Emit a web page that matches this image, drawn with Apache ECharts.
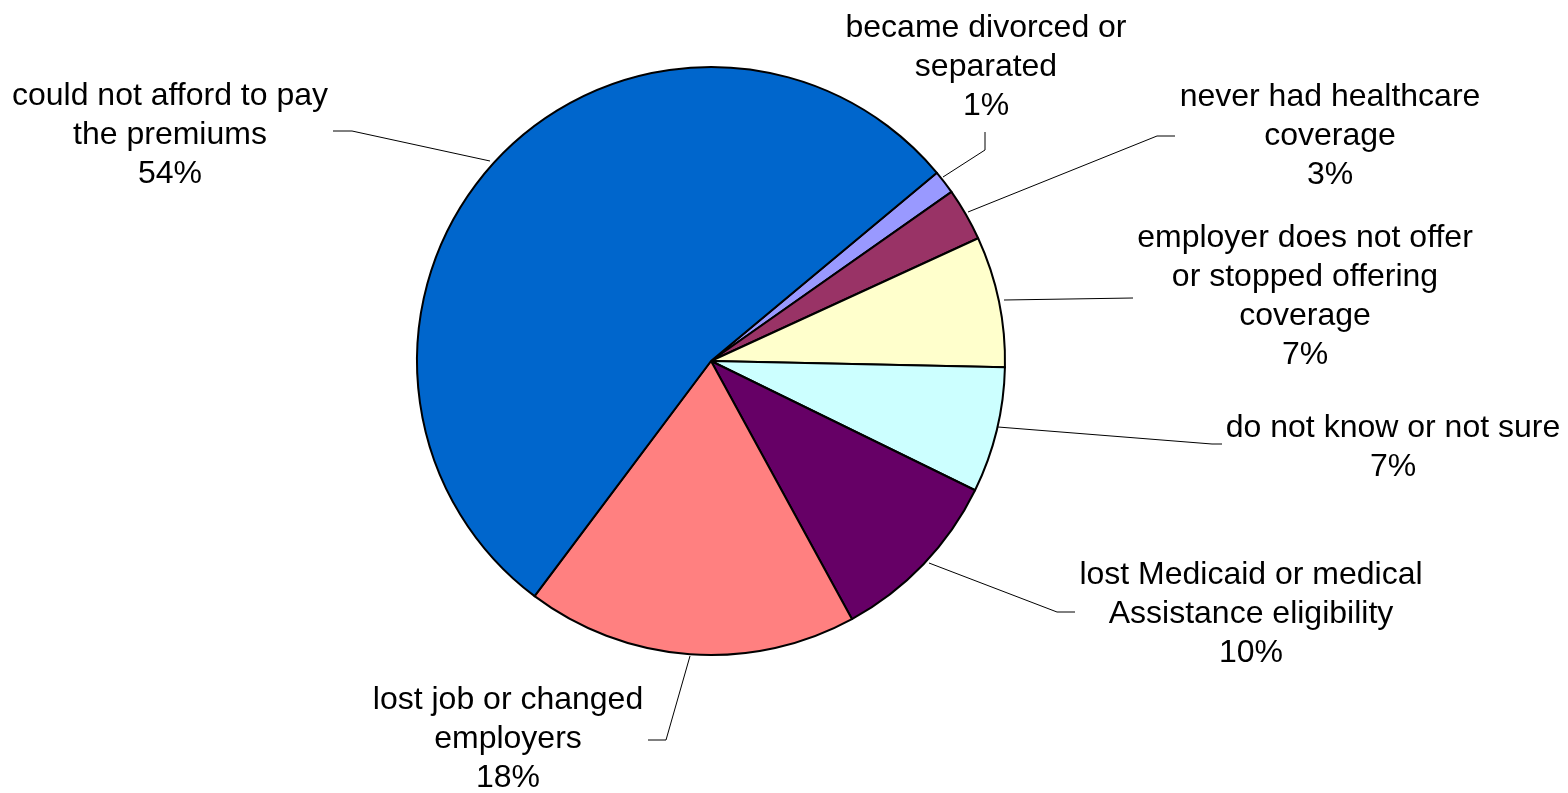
<!DOCTYPE html>
<html>
<head>
<meta charset="utf-8">
<script src="https://cdn.jsdelivr.net/npm/echarts@6/dist/echarts.min.js"></script>
<style>
html,body{margin:0;padding:0;background:#fff;}
#chart{width:1568px;height:793px;}
</style>
</head>
<body>
<div id="chart"></div>
<script>
// Categories (clockwise from the top-right boundary)
const categories = [
  "became divorced or\nseparated",
  "never had healthcare\ncoverage",
  "employer does not offer\nor stopped offering\ncoverage",
  "do not know or not sure",
  "lost Medicaid or medical\nAssistance eligibility",
  "lost job or changed\nemployers",
  "could not afford to pay\nthe premiums"
];
// Shares (percent)
const values = [1.3, 2.9, 7.2, 6.9, 9.8, 18.2, 53.7];
const colors = ["#9999FF", "#993366", "#FFFFCC", "#CCFFFF", "#660066", "#FF8080", "#0066CC"];

// Label placement (layout only): text centre and leader-line points
const labelPos = [
  { x: 986,  y: 67,  line: [[943,177],[985,150],[985,132]] },
  { x: 1330, y: 136, line: [[968,212],[1157,136],[1175,136]] },
  { x: 1305, y: 297, line: [[1004,300],[1133,298]] },
  { x: 1393, y: 448, line: [[998,427],[1212,444],[1222,444]] },
  { x: 1251, y: 614, line: [[929,563],[1057,612],[1075,612]] },
  { x: 508,  y: 739, line: [[690,656],[666,740],[648,740]] },
  { x: 170,  y: 135, line: [[490,161],[352,131],[333,131]] }
];

const chart = echarts.init(document.getElementById('chart'), null, { renderer: 'canvas' });
chart.setOption({
  animation: false,
  backgroundColor: '#ffffff',
  series: [{
    type: 'pie',
    center: [711, 361],
    radius: 294,
    startAngle: 39.8,
    clockwise: true,
    percentPrecision: 0,
    avoidLabelOverlap: false,
    data: categories.map((c, i) => ({ name: c, value: values[i], itemStyle: { color: colors[i] } })),
    itemStyle: { borderColor: '#000', borderWidth: 2 },
    emphasis: { disabled: true },
    label: {
      show: true,
      position: 'outside',
      formatter: '{b}\n{d}%',
      fontFamily: '"Liberation Sans", Arial, sans-serif',
      fontSize: 32,
      lineHeight: 39,
      color: '#000',
      align: 'center'
    },
    labelLine: {
      show: true,
      smooth: false,
      lineStyle: { color: '#000', width: 1 }
    },
    labelLayout: function (params) {
      const p = labelPos[params.dataIndex];
      return {
        x: p.x,
        y: p.y,
        align: 'center',
        verticalAlign: 'middle',
        labelLinePoints: p.line
      };
    }
  }]
});
</script>
</body>
</html>
